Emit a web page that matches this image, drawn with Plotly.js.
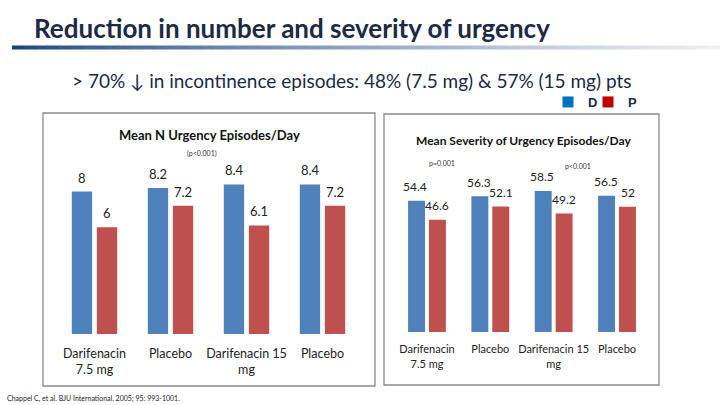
<!DOCTYPE html>
<html>
<head>
<meta charset="utf-8">
<script src="https://cdn.plot.ly/plotly-3.0.1.min.js"></script>
<style>html,body{margin:0;padding:0;background:#fff;}#chart{width:720px;height:405px;}</style>
</head>
<body>
<div id="chart"></div>
<script>
// ---- data ----
const categories = [0, 1, 2, 3];
const tickLabels = ["Darifenacin<br>7.5 mg", "Placebo", "Darifenacin 15<br>mg", "Placebo"];
const episodesBlue = [8, 8.2, 8.4, 8.4];
const episodesRed = [6, 7.2, 6.1, 7.2];
const severityBlue = [54.4, 56.3, 58.5, 56.5];
const severityRed = [46.6, 52.1, 49.2, 52];
const legendNames = ["D", "P"];
const pLeft = ["(p<0.001)"];
const pRight = ["p=0.001", "p<0.001"];

// ---- style ----
const W = 720, H = 405;
const FONT = "Lato, 'Liberation Sans', sans-serif";
const BLUE = "#4F81BD", RED = "#C0504D";
const NAVY = "#1b2a47";
const px = x => x / W;
const py = y => 1 - y / H;

const traces = [
  {type: 'bar', x: categories, y: episodesBlue, marker: {color: BLUE}, xaxis: 'x', yaxis: 'y', showlegend: false, hoverinfo: 'skip'},
  {type: 'bar', x: categories, y: episodesRed, marker: {color: RED}, xaxis: 'x', yaxis: 'y', showlegend: false, hoverinfo: 'skip'},
  {type: 'bar', x: categories, y: severityBlue, marker: {color: BLUE}, xaxis: 'x2', yaxis: 'y2', showlegend: false, hoverinfo: 'skip'},
  {type: 'bar', x: categories, y: severityRed, marker: {color: RED}, xaxis: 'x2', yaxis: 'y2', showlegend: false, hoverinfo: 'skip'},
  // slide legend entries (no data drawn)
  {type: 'scatter', mode: 'markers', x: [null], y: [null], name: legendNames[0], legend: 'legend',
   marker: {color: '#0070C0', symbol: 'square', size: 11}, xaxis: 'x', yaxis: 'y'},
  {type: 'scatter', mode: 'markers', x: [null], y: [null], name: legendNames[1], legend: 'legend2',
   marker: {color: '#C00000', symbol: 'square', size: 11}, xaxis: 'x', yaxis: 'y'}
];

const annotations = [];
function valueLabels(vals, xref, yref, xs, size) {
  vals.forEach((v, i) => annotations.push({
    x: categories[i], y: v, xref: xref, yref: yref, text: String(v), showarrow: false,
    xshift: xs, yshift: 14, yanchor: 'middle',
    font: {family: FONT, size: size, color: '#222'}
  }));
}
valueLabels(episodesBlue, 'x', 'y', -12.5, 13);
valueLabels(episodesRed, 'x', 'y', 12.5, 13);
valueLabels(severityBlue, 'x2', 'y2', -11.5, 12);
valueLabels(severityRed, 'x2', 'y2', 10.5, 12);

// titles & text
annotations.push(
  {xref: 'paper', yref: 'paper', x: px(32), y: py(28), xanchor: 'left', yanchor: 'middle', showarrow: false,
   text: "<b>Reduction in number and severity of urgency</b>", font: {family: FONT, size: 26, color: NAVY}},
  {xref: 'paper', yref: 'paper', x: px(352), y: py(80), xanchor: 'center', yanchor: 'middle', showarrow: false,
   text: "> 70% ↓ in incontinence episodes: 48% (7.5 mg) & 57% (15 mg) pts", font: {family: FONT, size: 19, color: NAVY}},
  {xref: 'paper', yref: 'paper', x: px(209), y: py(135), xanchor: 'center', yanchor: 'middle', showarrow: false,
   text: "<b>Mean N Urgency Episodes/Day</b>", font: {family: FONT, size: 13, color: '#111'}},
  {xref: 'paper', yref: 'paper', x: px(202), y: py(153), xanchor: 'center', yanchor: 'middle', showarrow: false,
   text: pLeft[0], font: {family: FONT, size: 7, color: '#333'}},
  {xref: 'paper', yref: 'paper', x: px(523), y: py(140), xanchor: 'center', yanchor: 'middle', showarrow: false,
   text: "<b>Mean Severity of Urgency Episodes/Day</b>", font: {family: FONT, size: 12, color: '#111'}},
  {xref: 'paper', yref: 'paper', x: px(442), y: py(163), xanchor: 'center', yanchor: 'middle', showarrow: false,
   text: pRight[0], font: {family: FONT, size: 7, color: '#333'}},
  {xref: 'paper', yref: 'paper', x: px(578), y: py(166), xanchor: 'center', yanchor: 'middle', showarrow: false,
   text: pRight[1], font: {family: FONT, size: 7, color: '#333'}},
  {xref: 'paper', yref: 'paper', x: px(5), y: py(398), xanchor: 'left', yanchor: 'middle', showarrow: false,
   text: "Chappel C, et al. BJU International. 2005; 95: 993-1001.", font: {family: FONT, size: 7, color: '#222'}}
);

// shapes: gradient rule under header + chart frames
const shapes = [];
const nSeg = 60, x0 = 12, x1 = 720;
const c0 = [28, 68, 128], c1 = [238, 240, 243];
for (let i = 0; i < nSeg; i++) {
  const t = i / (nSeg - 1);
  const c = c0.map((v, k) => Math.round(v + (c1[k] - v) * Math.pow(t, 0.8)));
  shapes.push({type: 'rect', xref: 'paper', yref: 'paper', layer: 'below',
    x0: px(x0 + (x1 - x0) * i / nSeg), x1: px(x0 + (x1 - x0) * (i + 1) / nSeg + 0.5),
    y0: py(49.5), y1: py(45.5), line: {width: 0}, fillcolor: `rgb(${c[0]},${c[1]},${c[2]})`});
}
shapes.push(
  {type: 'rect', xref: 'paper', yref: 'paper', x0: px(43), x1: px(375), y0: py(386), y1: py(113), line: {color: '#8a8a8a', width: 1.3}, layer: 'below'},
  {type: 'rect', xref: 'paper', yref: 'paper', x0: px(384), x1: px(659), y0: py(385), y1: py(114), line: {color: '#8a8a8a', width: 1.3}, layer: 'below'}
);

const axisX = {
  type: 'linear', range: [-0.5, 3.5], tickvals: categories, ticktext: tickLabels, tickangle: 0,
  showgrid: false, zeroline: false, showline: false, ticks: 'outside', ticklen: 8, tickcolor: 'rgba(0,0,0,0)',
  fixedrange: true
};
const axisY = {showgrid: false, zeroline: false, showline: false, showticklabels: false, ticks: '', fixedrange: true};

const legendCommon = {xanchor: 'left', yanchor: 'middle', orientation: 'h', bgcolor: 'rgba(0,0,0,0)',
  borderwidth: 0, font: {family: "'Liberation Sans', sans-serif", size: 13, color: NAVY, weight: 'bold'}};

const layout = {
  width: W, height: H, autosize: false,
  margin: {l: 0, r: 0, t: 0, b: 0},
  paper_bgcolor: '#fff', plot_bgcolor: 'rgba(0,0,0,0)',
  barmode: 'group', bargap: 0.34, bargroupgap: 0.19,
  xaxis: Object.assign({}, axisX, {domain: [px(56.5), px(360.5)], anchor: 'y', tickfont: {family: FONT, size: 12.5, color: '#222'}}),
  yaxis: Object.assign({}, axisY, {domain: [py(334), py(170.2)], range: [0, 9.2], anchor: 'x'}),
  xaxis2: Object.assign({}, axisX, {domain: [px(395.3), px(648.7)], anchor: 'y2', ticklen: 7, tickfont: {family: FONT, size: 11, color: '#222'}}),
  yaxis2: Object.assign({}, axisY, {domain: [py(332), py(175.3)], range: [0, 65], anchor: 'x2'}),
  legend: Object.assign({x: px(548), y: py(102)}, legendCommon),
  legend2: Object.assign({x: px(588), y: py(102)}, legendCommon),
  annotations: annotations,
  shapes: shapes
};

Plotly.newPlot('chart', traces, layout, {staticPlot: true, displayModeBar: false});
</script>
</body>
</html>
